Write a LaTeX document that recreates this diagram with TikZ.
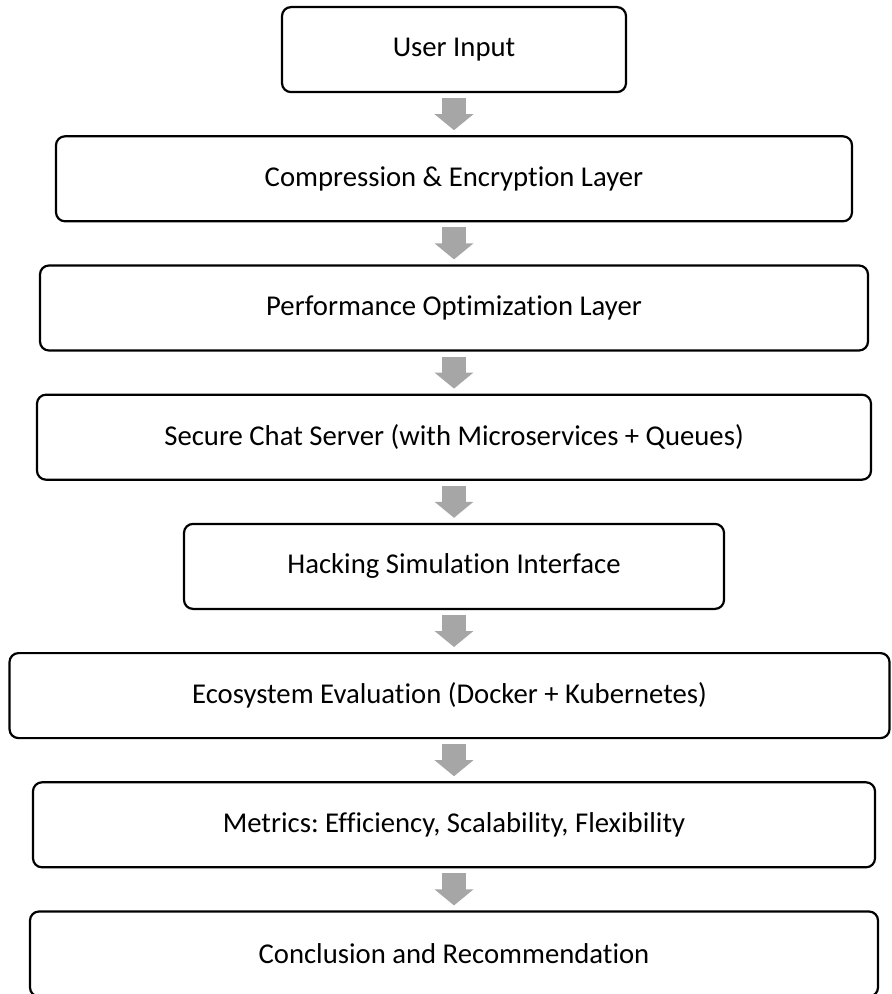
\documentclass[tikz,border=0pt]{standalone}
\usepackage{fontspec}
\setmainfont{Carlito}[Ligatures=NoCommon]
\frenchspacing
\usetikzlibrary{positioning,arrows.meta}
\definecolor{flowgray}{RGB}{166,166,166}
\tikzstyle{layer} = [rectangle, draw, line width=1.1pt, rounded corners=4.5pt,
    minimum height=42.5pt, inner sep=0pt, font=\fontsize{14.35}{17}\selectfont]
\tikzstyle{flow} = [draw=flowgray, line width=12pt, -{Triangle[length=8pt,width=19pt]},
    shorten <=2.5pt, shorten >=2.5pt]

\begin{document}
\begin{tikzpicture}[node distance=21pt]
  \useasboundingbox (0,0) rectangle (445.5pt,-497pt);

  \node[layer,minimum width=172pt,anchor=north] (input) at (227pt,-3pt) {User Input};
  \node[layer,minimum width=398pt] (compress) [below=of input] {Compression \& Encryption Layer};
  \node[layer,minimum width=414pt] (perf)     [below=of compress] {Performance Optimization Layer};
  \node[layer,minimum width=417pt] (server)   [below=of perf] {Secure Chat Server (with Microservices + Queues)};
  \node[layer,minimum width=270pt] (hack)     [below=of server] {Hacking Simulation Interface};
  \node[layer,minimum width=440pt] (eco)      [below=of hack, xshift=-2.25pt] {Ecosystem Evaluation (Docker + Kubernetes)};
  \node[layer,minimum width=421pt] (metrics)  [below=of eco, xshift=2.25pt] {Metrics: Efficiency, Scalability, Flexibility};
  \node[layer,minimum width=424pt] (concl)    [below=of metrics] {Conclusion and Recommendation};

  \foreach \from/\to in {input/compress, compress/perf, perf/server, server/hack,
                         hack/eco, eco/metrics, metrics/concl}
    \draw[flow] (input.south |- \from.south) -- (input.south |- \to.north);
\end{tikzpicture}
\end{document}
